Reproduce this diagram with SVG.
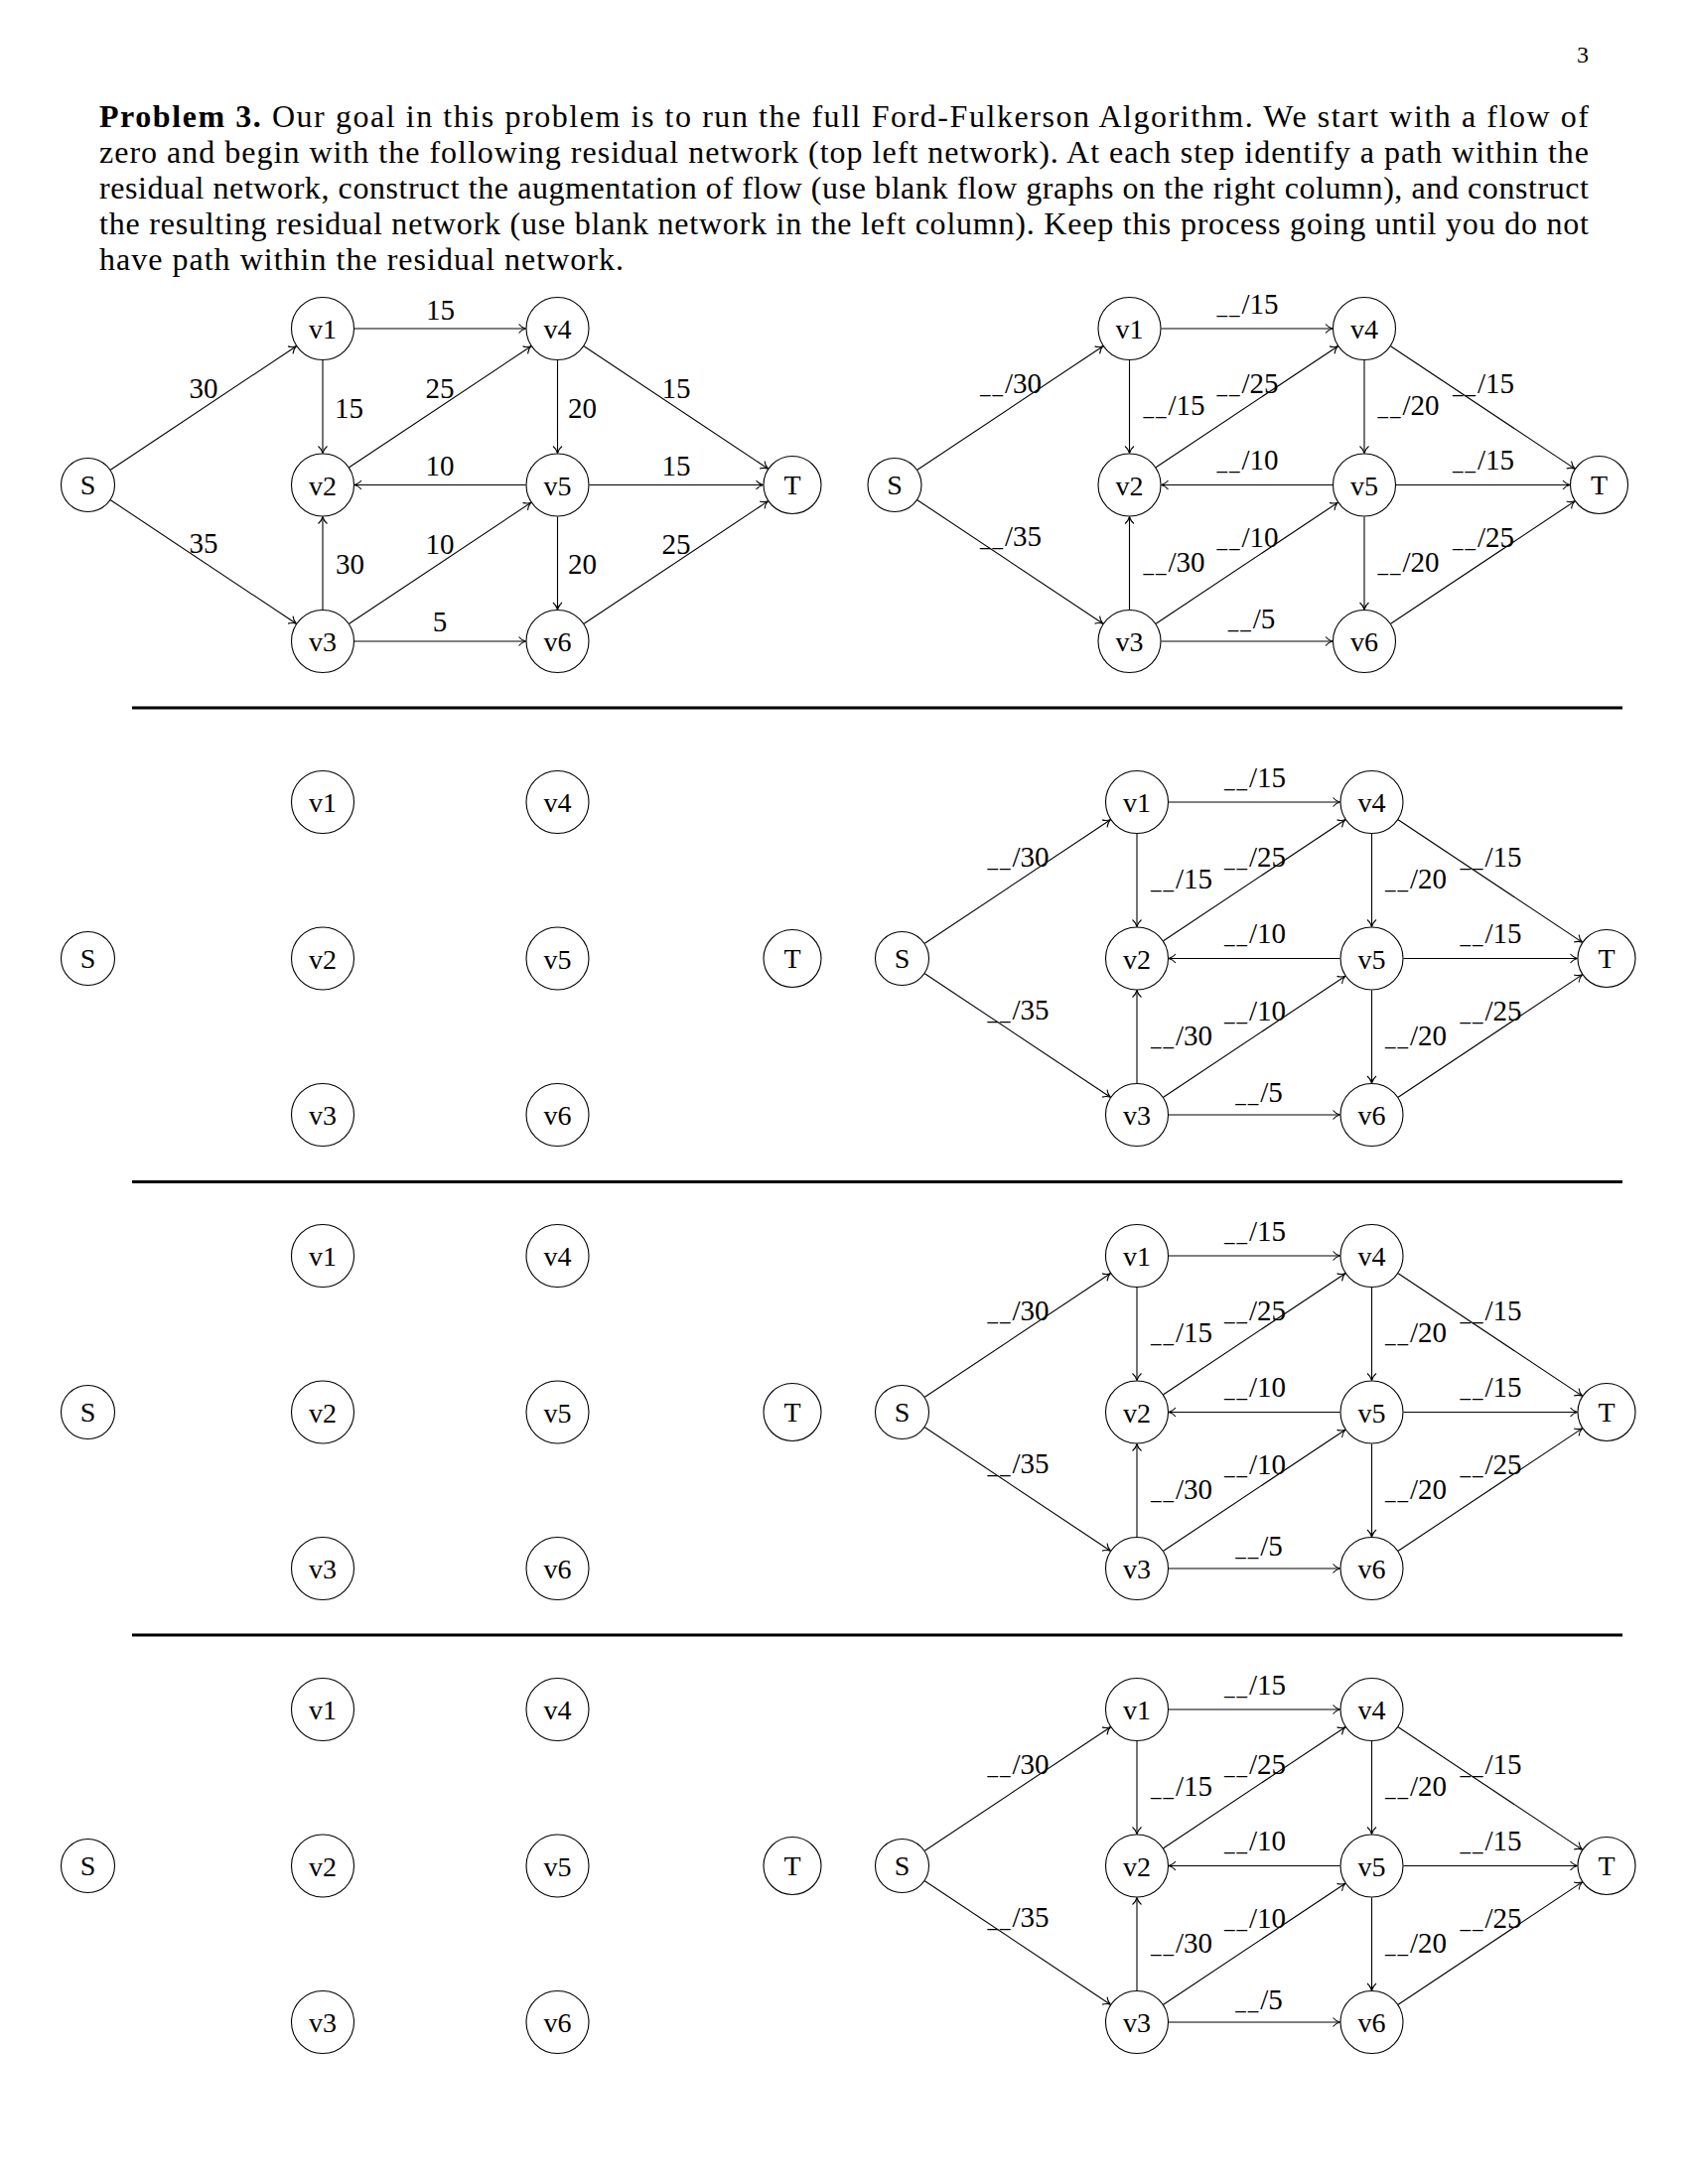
<svg xmlns="http://www.w3.org/2000/svg" width="1700" height="2200" viewBox="0 0 1700 2200">
<style>
.node circle { fill: #fff; stroke: #000; stroke-width: 1.1; }
.node text { font-family: "Liberation Serif", "Times New Roman", serif; font-size: 28px; text-anchor: middle; fill: #000; }
.lbl { font-family: "Liberation Serif", "Times New Roman", serif; font-size: 29px; text-anchor: middle; fill: #000; }
.edges line { stroke: #000; stroke-width: 1.1; fill: none; marker-end: url(#arr); }
.body { font-family: "Liberation Serif", "Times New Roman", serif; font-size: 32px; fill: #000; }
.us { font-size: 21px; letter-spacing: 2px; }
.sep { stroke: #000; stroke-width: 2.8; }
</style>
<defs>
<marker id="arr" markerWidth="12" markerHeight="12" viewBox="-10 -6 12 12" refX="0" refY="0" orient="auto" markerUnits="userSpaceOnUse">
<path d="M-7,-4.5 C-5,-2 -2,-0.5 0,0 C-2,0.5 -5,2 -7,4.5" fill="none" stroke="#000" stroke-width="1.1"/>
</marker>
</defs>
<rect width="1700" height="2200" fill="#fff"/>
<text x="1594" y="63" style="font-family:'Liberation Serif',serif;font-size:24px" text-anchor="middle">3</text>
<g id="problem-text">
<text class="body" x="100" y="128" textLength="1500"><tspan font-weight="bold">Problem 3.</tspan> Our goal in this problem is to run the full Ford-Fulkerson Algorithm. We start with a flow of</text>
<text class="body" x="100" y="164" textLength="1500">zero and begin with the following residual network (top left network). At each step identify a path within the</text>
<text class="body" x="100" y="200" textLength="1500">residual network, construct the augmentation of flow (use blank flow graphs on the right column), and construct</text>
<text class="body" x="100" y="236" textLength="1500">the resulting residual network (use blank network in the left column). Keep this process going until you do not</text>
<text class="body" x="100" y="272" textLength="528">have path within the residual network.</text>
</g>
<g id="separators">
<line class="sep" x1="133" y1="713" x2="1634" y2="713"/>
<line class="sep" x1="133" y1="1190.5" x2="1634" y2="1190.5"/>
<line class="sep" x1="133" y1="1647" x2="1634" y2="1647"/>
</g>

<!-- Row 1 left: residual network -->
<g id="g1L" transform="translate(88.5,488.5)">
<g id="e1L" class="edges">
<line x1="22.89" y1="-15.24" x2="209.87" y2="-139.76"/>
<line x1="22.89" y1="15.24" x2="209.87" y2="139.76"/>
<line x1="268.5" y1="-157.5" x2="441" y2="-157.5"/>
<line x1="236.5" y1="-125.5" x2="236.5" y2="-32"/>
<line x1="263.13" y1="-17.74" x2="446.37" y2="-139.76"/>
<line x1="441" y1="0" x2="268.5" y2="0"/>
<line x1="236.5" y1="125.5" x2="236.5" y2="32"/>
<line x1="263.13" y1="139.76" x2="446.37" y2="17.74"/>
<line x1="268.5" y1="157.5" x2="441" y2="157.5"/>
<line x1="473" y1="-125.5" x2="473" y2="-32"/>
<line x1="499.63" y1="-139.76" x2="684.95" y2="-16.35"/>
<line x1="505" y1="0" x2="680" y2="0"/>
<line x1="473" y1="32" x2="473" y2="125.5"/>
<line x1="499.63" y1="139.76" x2="684.95" y2="16.35"/>
<text class="lbl" x="116.5" y="-87.5">30</text>
<text class="lbl" x="355" y="-167">15</text>
<text class="lbl" x="263" y="-67.5">15</text>
<text class="lbl" x="354.5" y="-88">25</text>
<text class="lbl" x="498" y="-67.5">20</text>
<text class="lbl" x="592.5" y="-87.5">15</text>
<text class="lbl" x="354.5" y="-10">10</text>
<text class="lbl" x="592.5" y="-10">15</text>
<text class="lbl" x="116.5" y="68">35</text>
<text class="lbl" x="264" y="89.5">30</text>
<text class="lbl" x="354.5" y="69.5">10</text>
<text class="lbl" x="498" y="89.5">20</text>
<text class="lbl" x="592.5" y="69.5">25</text>
<text class="lbl" x="354.5" y="147.5">5</text>
</g>
<g id="n1L-S" class="node"><circle r="27"/><text y="9.5">S</text></g>
<g id="n1L-v1" class="node"><circle cx="236.5" cy="-157.5" r="31.5"/><text x="236.5" y="-147.5">v1</text></g>
<g id="n1L-v2" class="node"><circle cx="236.5" cy="0" r="31.5"/><text x="236.5" y="10">v2</text></g>
<g id="n1L-v3" class="node"><circle cx="236.5" cy="157.5" r="31.5"/><text x="236.5" y="167.5">v3</text></g>
<g id="n1L-v4" class="node"><circle cx="473" cy="-157.5" r="31.5"/><text x="473" y="-147.5">v4</text></g>
<g id="n1L-v5" class="node"><circle cx="473" cy="0" r="31.5"/><text x="473" y="10">v5</text></g>
<g id="n1L-v6" class="node"><circle cx="473" cy="157.5" r="31.5"/><text x="473" y="167.5">v6</text></g>
<g id="n1L-T" class="node"><circle cx="709.5" cy="0" r="29"/><text x="709.5" y="9.5">T</text></g>
</g>

<!-- Row 1 right: flow graph -->
<g id="g1R" transform="translate(901,488.5)">
<g id="e1R" class="edges">
<line x1="22.89" y1="-15.24" x2="209.87" y2="-139.76"/>
<line x1="22.89" y1="15.24" x2="209.87" y2="139.76"/>
<line x1="268.5" y1="-157.5" x2="441" y2="-157.5"/>
<line x1="236.5" y1="-125.5" x2="236.5" y2="-32"/>
<line x1="263.13" y1="-17.74" x2="446.37" y2="-139.76"/>
<line x1="441" y1="0" x2="268.5" y2="0"/>
<line x1="236.5" y1="125.5" x2="236.5" y2="32"/>
<line x1="263.13" y1="139.76" x2="446.37" y2="17.74"/>
<line x1="268.5" y1="157.5" x2="441" y2="157.5"/>
<line x1="473" y1="-125.5" x2="473" y2="-32"/>
<line x1="499.63" y1="-139.76" x2="684.95" y2="-16.35"/>
<line x1="505" y1="0" x2="680" y2="0"/>
<line x1="473" y1="32" x2="473" y2="125.5"/>
<line x1="499.63" y1="139.76" x2="684.95" y2="16.35"/>
<text class="lbl" x="117" y="-92.5"><tspan class="us">__</tspan>/30</text>
<text class="lbl" x="355.5" y="-172.5"><tspan class="us">__</tspan>/15</text>
<text class="lbl" x="281.5" y="-70.5"><tspan class="us">__</tspan>/15</text>
<text class="lbl" x="355.5" y="-93"><tspan class="us">__</tspan>/25</text>
<text class="lbl" x="517.5" y="-70.5"><tspan class="us">__</tspan>/20</text>
<text class="lbl" x="593" y="-93"><tspan class="us">__</tspan>/15</text>
<text class="lbl" x="355.5" y="-15.5"><tspan class="us">__</tspan>/10</text>
<text class="lbl" x="593" y="-15.5"><tspan class="us">__</tspan>/15</text>
<text class="lbl" x="117" y="61"><tspan class="us">__</tspan>/35</text>
<text class="lbl" x="281.5" y="87.5"><tspan class="us">__</tspan>/30</text>
<text class="lbl" x="355.5" y="62.5"><tspan class="us">__</tspan>/10</text>
<text class="lbl" x="517.5" y="87.5"><tspan class="us">__</tspan>/20</text>
<text class="lbl" x="593" y="62.5"><tspan class="us">__</tspan>/25</text>
<text class="lbl" x="359.5" y="144.5"><tspan class="us">__</tspan>/5</text>
</g>
<g id="n1R-S" class="node"><circle r="27"/><text y="9.5">S</text></g>
<g id="n1R-v1" class="node"><circle cx="236.5" cy="-157.5" r="31.5"/><text x="236.5" y="-147.5">v1</text></g>
<g id="n1R-v2" class="node"><circle cx="236.5" cy="0" r="31.5"/><text x="236.5" y="10">v2</text></g>
<g id="n1R-v3" class="node"><circle cx="236.5" cy="157.5" r="31.5"/><text x="236.5" y="167.5">v3</text></g>
<g id="n1R-v4" class="node"><circle cx="473" cy="-157.5" r="31.5"/><text x="473" y="-147.5">v4</text></g>
<g id="n1R-v5" class="node"><circle cx="473" cy="0" r="31.5"/><text x="473" y="10">v5</text></g>
<g id="n1R-v6" class="node"><circle cx="473" cy="157.5" r="31.5"/><text x="473" y="167.5">v6</text></g>
<g id="n1R-T" class="node"><circle cx="709.5" cy="0" r="29"/><text x="709.5" y="9.5">T</text></g>
</g>

<!-- Row 2 left: blank network -->
<g id="g2L" transform="translate(88.5,965.5)">
<g id="n2L-S" class="node"><circle r="27"/><text y="9.5">S</text></g>
<g id="n2L-v1" class="node"><circle cx="236.5" cy="-157.5" r="31.5"/><text x="236.5" y="-147.5">v1</text></g>
<g id="n2L-v2" class="node"><circle cx="236.5" cy="0" r="31.5"/><text x="236.5" y="10">v2</text></g>
<g id="n2L-v3" class="node"><circle cx="236.5" cy="157.5" r="31.5"/><text x="236.5" y="167.5">v3</text></g>
<g id="n2L-v4" class="node"><circle cx="473" cy="-157.5" r="31.5"/><text x="473" y="-147.5">v4</text></g>
<g id="n2L-v5" class="node"><circle cx="473" cy="0" r="31.5"/><text x="473" y="10">v5</text></g>
<g id="n2L-v6" class="node"><circle cx="473" cy="157.5" r="31.5"/><text x="473" y="167.5">v6</text></g>
<g id="n2L-T" class="node"><circle cx="709.5" cy="0" r="29"/><text x="709.5" y="9.5">T</text></g>
</g>

<!-- Row 2 right -->
<g id="g2R" transform="translate(908.5,965.5)">
<g id="e2R" class="edges">
<line x1="22.89" y1="-15.24" x2="209.87" y2="-139.76"/>
<line x1="22.89" y1="15.24" x2="209.87" y2="139.76"/>
<line x1="268.5" y1="-157.5" x2="441" y2="-157.5"/>
<line x1="236.5" y1="-125.5" x2="236.5" y2="-32"/>
<line x1="263.13" y1="-17.74" x2="446.37" y2="-139.76"/>
<line x1="441" y1="0" x2="268.5" y2="0"/>
<line x1="236.5" y1="125.5" x2="236.5" y2="32"/>
<line x1="263.13" y1="139.76" x2="446.37" y2="17.74"/>
<line x1="268.5" y1="157.5" x2="441" y2="157.5"/>
<line x1="473" y1="-125.5" x2="473" y2="-32"/>
<line x1="499.63" y1="-139.76" x2="684.95" y2="-16.35"/>
<line x1="505" y1="0" x2="680" y2="0"/>
<line x1="473" y1="32" x2="473" y2="125.5"/>
<line x1="499.63" y1="139.76" x2="684.95" y2="16.35"/>
<text class="lbl" x="117" y="-92.5"><tspan class="us">__</tspan>/30</text>
<text class="lbl" x="355.5" y="-172.5"><tspan class="us">__</tspan>/15</text>
<text class="lbl" x="281.5" y="-70.5"><tspan class="us">__</tspan>/15</text>
<text class="lbl" x="355.5" y="-93"><tspan class="us">__</tspan>/25</text>
<text class="lbl" x="517.5" y="-70.5"><tspan class="us">__</tspan>/20</text>
<text class="lbl" x="593" y="-93"><tspan class="us">__</tspan>/15</text>
<text class="lbl" x="355.5" y="-15.5"><tspan class="us">__</tspan>/10</text>
<text class="lbl" x="593" y="-15.5"><tspan class="us">__</tspan>/15</text>
<text class="lbl" x="117" y="61"><tspan class="us">__</tspan>/35</text>
<text class="lbl" x="281.5" y="87.5"><tspan class="us">__</tspan>/30</text>
<text class="lbl" x="355.5" y="62.5"><tspan class="us">__</tspan>/10</text>
<text class="lbl" x="517.5" y="87.5"><tspan class="us">__</tspan>/20</text>
<text class="lbl" x="593" y="62.5"><tspan class="us">__</tspan>/25</text>
<text class="lbl" x="359.5" y="144.5"><tspan class="us">__</tspan>/5</text>
</g>
<g id="n2R-S" class="node"><circle r="27"/><text y="9.5">S</text></g>
<g id="n2R-v1" class="node"><circle cx="236.5" cy="-157.5" r="31.5"/><text x="236.5" y="-147.5">v1</text></g>
<g id="n2R-v2" class="node"><circle cx="236.5" cy="0" r="31.5"/><text x="236.5" y="10">v2</text></g>
<g id="n2R-v3" class="node"><circle cx="236.5" cy="157.5" r="31.5"/><text x="236.5" y="167.5">v3</text></g>
<g id="n2R-v4" class="node"><circle cx="473" cy="-157.5" r="31.5"/><text x="473" y="-147.5">v4</text></g>
<g id="n2R-v5" class="node"><circle cx="473" cy="0" r="31.5"/><text x="473" y="10">v5</text></g>
<g id="n2R-v6" class="node"><circle cx="473" cy="157.5" r="31.5"/><text x="473" y="167.5">v6</text></g>
<g id="n2R-T" class="node"><circle cx="709.5" cy="0" r="29"/><text x="709.5" y="9.5">T</text></g>
</g>

<!-- Row 3 left -->
<g id="g3L" transform="translate(88.5,1422.5)">
<g id="n3L-S" class="node"><circle r="27"/><text y="9.5">S</text></g>
<g id="n3L-v1" class="node"><circle cx="236.5" cy="-157.5" r="31.5"/><text x="236.5" y="-147.5">v1</text></g>
<g id="n3L-v2" class="node"><circle cx="236.5" cy="0" r="31.5"/><text x="236.5" y="10">v2</text></g>
<g id="n3L-v3" class="node"><circle cx="236.5" cy="157.5" r="31.5"/><text x="236.5" y="167.5">v3</text></g>
<g id="n3L-v4" class="node"><circle cx="473" cy="-157.5" r="31.5"/><text x="473" y="-147.5">v4</text></g>
<g id="n3L-v5" class="node"><circle cx="473" cy="0" r="31.5"/><text x="473" y="10">v5</text></g>
<g id="n3L-v6" class="node"><circle cx="473" cy="157.5" r="31.5"/><text x="473" y="167.5">v6</text></g>
<g id="n3L-T" class="node"><circle cx="709.5" cy="0" r="29"/><text x="709.5" y="9.5">T</text></g>
</g>

<!-- Row 3 right -->
<g id="g3R" transform="translate(908.5,1422.5)">
<g id="e3R" class="edges">
<line x1="22.89" y1="-15.24" x2="209.87" y2="-139.76"/>
<line x1="22.89" y1="15.24" x2="209.87" y2="139.76"/>
<line x1="268.5" y1="-157.5" x2="441" y2="-157.5"/>
<line x1="236.5" y1="-125.5" x2="236.5" y2="-32"/>
<line x1="263.13" y1="-17.74" x2="446.37" y2="-139.76"/>
<line x1="441" y1="0" x2="268.5" y2="0"/>
<line x1="236.5" y1="125.5" x2="236.5" y2="32"/>
<line x1="263.13" y1="139.76" x2="446.37" y2="17.74"/>
<line x1="268.5" y1="157.5" x2="441" y2="157.5"/>
<line x1="473" y1="-125.5" x2="473" y2="-32"/>
<line x1="499.63" y1="-139.76" x2="684.95" y2="-16.35"/>
<line x1="505" y1="0" x2="680" y2="0"/>
<line x1="473" y1="32" x2="473" y2="125.5"/>
<line x1="499.63" y1="139.76" x2="684.95" y2="16.35"/>
<text class="lbl" x="117" y="-92.5"><tspan class="us">__</tspan>/30</text>
<text class="lbl" x="355.5" y="-172.5"><tspan class="us">__</tspan>/15</text>
<text class="lbl" x="281.5" y="-70.5"><tspan class="us">__</tspan>/15</text>
<text class="lbl" x="355.5" y="-93"><tspan class="us">__</tspan>/25</text>
<text class="lbl" x="517.5" y="-70.5"><tspan class="us">__</tspan>/20</text>
<text class="lbl" x="593" y="-93"><tspan class="us">__</tspan>/15</text>
<text class="lbl" x="355.5" y="-15.5"><tspan class="us">__</tspan>/10</text>
<text class="lbl" x="593" y="-15.5"><tspan class="us">__</tspan>/15</text>
<text class="lbl" x="117" y="61"><tspan class="us">__</tspan>/35</text>
<text class="lbl" x="281.5" y="87.5"><tspan class="us">__</tspan>/30</text>
<text class="lbl" x="355.5" y="62.5"><tspan class="us">__</tspan>/10</text>
<text class="lbl" x="517.5" y="87.5"><tspan class="us">__</tspan>/20</text>
<text class="lbl" x="593" y="62.5"><tspan class="us">__</tspan>/25</text>
<text class="lbl" x="359.5" y="144.5"><tspan class="us">__</tspan>/5</text>
</g>
<g id="n3R-S" class="node"><circle r="27"/><text y="9.5">S</text></g>
<g id="n3R-v1" class="node"><circle cx="236.5" cy="-157.5" r="31.5"/><text x="236.5" y="-147.5">v1</text></g>
<g id="n3R-v2" class="node"><circle cx="236.5" cy="0" r="31.5"/><text x="236.5" y="10">v2</text></g>
<g id="n3R-v3" class="node"><circle cx="236.5" cy="157.5" r="31.5"/><text x="236.5" y="167.5">v3</text></g>
<g id="n3R-v4" class="node"><circle cx="473" cy="-157.5" r="31.5"/><text x="473" y="-147.5">v4</text></g>
<g id="n3R-v5" class="node"><circle cx="473" cy="0" r="31.5"/><text x="473" y="10">v5</text></g>
<g id="n3R-v6" class="node"><circle cx="473" cy="157.5" r="31.5"/><text x="473" y="167.5">v6</text></g>
<g id="n3R-T" class="node"><circle cx="709.5" cy="0" r="29"/><text x="709.5" y="9.5">T</text></g>
</g>

<!-- Row 4 left -->
<g id="g4L" transform="translate(88.5,1879.5)">
<g id="n4L-S" class="node"><circle r="27"/><text y="9.5">S</text></g>
<g id="n4L-v1" class="node"><circle cx="236.5" cy="-157.5" r="31.5"/><text x="236.5" y="-147.5">v1</text></g>
<g id="n4L-v2" class="node"><circle cx="236.5" cy="0" r="31.5"/><text x="236.5" y="10">v2</text></g>
<g id="n4L-v3" class="node"><circle cx="236.5" cy="157.5" r="31.5"/><text x="236.5" y="167.5">v3</text></g>
<g id="n4L-v4" class="node"><circle cx="473" cy="-157.5" r="31.5"/><text x="473" y="-147.5">v4</text></g>
<g id="n4L-v5" class="node"><circle cx="473" cy="0" r="31.5"/><text x="473" y="10">v5</text></g>
<g id="n4L-v6" class="node"><circle cx="473" cy="157.5" r="31.5"/><text x="473" y="167.5">v6</text></g>
<g id="n4L-T" class="node"><circle cx="709.5" cy="0" r="29"/><text x="709.5" y="9.5">T</text></g>
</g>

<!-- Row 4 right -->
<g id="g4R" transform="translate(908.5,1879.5)">
<g id="e4R" class="edges">
<line x1="22.89" y1="-15.24" x2="209.87" y2="-139.76"/>
<line x1="22.89" y1="15.24" x2="209.87" y2="139.76"/>
<line x1="268.5" y1="-157.5" x2="441" y2="-157.5"/>
<line x1="236.5" y1="-125.5" x2="236.5" y2="-32"/>
<line x1="263.13" y1="-17.74" x2="446.37" y2="-139.76"/>
<line x1="441" y1="0" x2="268.5" y2="0"/>
<line x1="236.5" y1="125.5" x2="236.5" y2="32"/>
<line x1="263.13" y1="139.76" x2="446.37" y2="17.74"/>
<line x1="268.5" y1="157.5" x2="441" y2="157.5"/>
<line x1="473" y1="-125.5" x2="473" y2="-32"/>
<line x1="499.63" y1="-139.76" x2="684.95" y2="-16.35"/>
<line x1="505" y1="0" x2="680" y2="0"/>
<line x1="473" y1="32" x2="473" y2="125.5"/>
<line x1="499.63" y1="139.76" x2="684.95" y2="16.35"/>
<text class="lbl" x="117" y="-92.5"><tspan class="us">__</tspan>/30</text>
<text class="lbl" x="355.5" y="-172.5"><tspan class="us">__</tspan>/15</text>
<text class="lbl" x="281.5" y="-70.5"><tspan class="us">__</tspan>/15</text>
<text class="lbl" x="355.5" y="-93"><tspan class="us">__</tspan>/25</text>
<text class="lbl" x="517.5" y="-70.5"><tspan class="us">__</tspan>/20</text>
<text class="lbl" x="593" y="-93"><tspan class="us">__</tspan>/15</text>
<text class="lbl" x="355.5" y="-15.5"><tspan class="us">__</tspan>/10</text>
<text class="lbl" x="593" y="-15.5"><tspan class="us">__</tspan>/15</text>
<text class="lbl" x="117" y="61"><tspan class="us">__</tspan>/35</text>
<text class="lbl" x="281.5" y="87.5"><tspan class="us">__</tspan>/30</text>
<text class="lbl" x="355.5" y="62.5"><tspan class="us">__</tspan>/10</text>
<text class="lbl" x="517.5" y="87.5"><tspan class="us">__</tspan>/20</text>
<text class="lbl" x="593" y="62.5"><tspan class="us">__</tspan>/25</text>
<text class="lbl" x="359.5" y="144.5"><tspan class="us">__</tspan>/5</text>
</g>
<g id="n4R-S" class="node"><circle r="27"/><text y="9.5">S</text></g>
<g id="n4R-v1" class="node"><circle cx="236.5" cy="-157.5" r="31.5"/><text x="236.5" y="-147.5">v1</text></g>
<g id="n4R-v2" class="node"><circle cx="236.5" cy="0" r="31.5"/><text x="236.5" y="10">v2</text></g>
<g id="n4R-v3" class="node"><circle cx="236.5" cy="157.5" r="31.5"/><text x="236.5" y="167.5">v3</text></g>
<g id="n4R-v4" class="node"><circle cx="473" cy="-157.5" r="31.5"/><text x="473" y="-147.5">v4</text></g>
<g id="n4R-v5" class="node"><circle cx="473" cy="0" r="31.5"/><text x="473" y="10">v5</text></g>
<g id="n4R-v6" class="node"><circle cx="473" cy="157.5" r="31.5"/><text x="473" y="167.5">v6</text></g>
<g id="n4R-T" class="node"><circle cx="709.5" cy="0" r="29"/><text x="709.5" y="9.5">T</text></g>
</g>
</svg>
